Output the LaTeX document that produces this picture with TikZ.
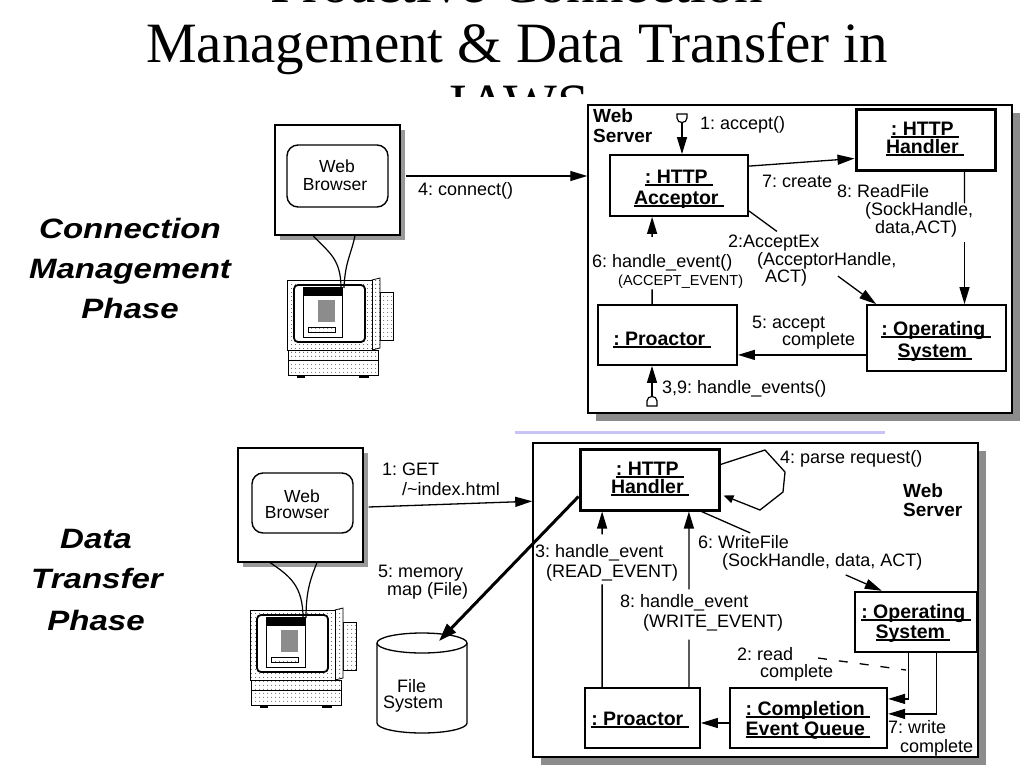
\documentclass[tikz,border=0pt]{standalone}
\usepackage{fontspec}
\setmainfont{Liberation Sans}
\newfontfamily\titlefont{Liberation Serif}
\usetikzlibrary{arrows.meta,calc,patterns.meta}
\newcommand\myul[1]{\setbox0\hbox{#1}\rlap{\rule[-3pt]{\wd0}{1.8pt}}\box0}
\definecolor{lav}{RGB}{200,196,245}
\frenchspacing
\begin{document}
\begin{tikzpicture}[x=1pt,y=-1pt,
  lbl/.style={font=\fontsize{18}{21}\selectfont, inner sep=0pt, anchor=base west},
  sml/.style={font=\fontsize{14.5}{16}\selectfont, inner sep=0pt, anchor=base west},
  obj/.style={font=\bfseries\fontsize{19.5}{22}\selectfont, inner sep=0pt, anchor=base},
  objl/.style={font=\bfseries\fontsize{19}{22}\selectfont, inner sep=0pt, anchor=base west},
  brt/.style={font=\fontsize{17.5}{20}\selectfont, inner sep=0pt, anchor=base},
  phase/.style={font=\bfseries\itshape\fontsize{28}{30}\selectfont, inner sep=0pt, anchor=base},
  ttl/.style={font=\titlefont\fontsize{57}{60}\selectfont, inner sep=0pt, anchor=base},
  box/.style={draw, line width=1.8pt, fill=white, inner sep=0pt},
  frame/.style={draw, line width=1.5pt, fill=white, inner sep=0pt},
  ln/.style={line width=1.3pt},
  arr/.style={line width=1.3pt, -{Triangle[length=17pt,width=10pt]}},
  dotfill/.style={preaction={fill=white}, pattern={Dots[distance=4pt,radius=0.5pt]}},
  computer/.pic={
    \draw[line width=0.8pt, dotfill] (93,12) rectangle (106,60);
    \draw[line width=0.8pt, dotfill] (85,0) -- (93,-2) -- (93,68) -- (85,70) -- cycle;
    \draw[line width=1pt, dotfill] (0,0) rectangle (85,70);
    \draw[line width=1.8pt, fill=white, rounded corners=4pt] (7,5) rectangle (78,62);
    \draw[line width=0.8pt, fill=white] (16,7) rectangle (55,57);
    \fill (16,7) rectangle (55,16);
    \fill[black!45] (31,20) rectangle (48,42);
    \draw[line width=0.8pt, dotfill] (21,47) rectangle (48,52);
    \draw[line width=0.9pt, dotfill] (1,70) rectangle (91,80);
    \draw[line width=0.9pt, dotfill] (1,80) rectangle (91,95);
    \fill (10,95) rectangle (18,98);
    \fill (72,95) rectangle (82,98);
  }]
\useasboundingbox (0,0) rectangle (1024,768);
\clip (0,0) rectangle (1024,768);
\fill[white] (0,0) rectangle (1024,768);

% title
\node[ttl] (t1) at (517,3) {Proactive Connection};
\node[ttl] (t2) at (517,63) {Management \& Data Transfer in};
\node[ttl] (t3) at (517,123) {JAWS};
\fill[white] (0,97) rectangle (1024,768);

% phase labels
\node[phase] (p1) at (130,238) {\scalebox{1.18}[1]{Connection}};
\node[phase] (p2) at (130,278) {\scalebox{1.18}[1]{Management}};
\node[phase] (p3) at (130,318) {\scalebox{1.18}[1]{Phase}};
\node[phase] (p4) at (96,548) {\scalebox{1.18}[1]{Data}};
\node[phase] (p5) at (97,588) {\scalebox{1.18}[1]{Transfer}};
\node[phase] (p6) at (96,630) {\scalebox{1.18}[1]{Phase}};

% ================= TOP =================
\fill[black!45] (596,113) rectangle (1020,421);
\node[frame, minimum width=424pt, minimum height=308pt] (ws1) at (800,259) {};
\node[objl] (ws1a) at (593,122) {Web};
\node[objl] (ws1b) at (593,142) {Server};

% browser 1
\fill[black!40] (280,130) rectangle (405,240);
\node[draw, line width=1.2pt, fill=white, minimum width=125pt, minimum height=110pt, inner sep=0pt] (br1) at (337.5,180) {};
\node[draw, line width=1.4pt, rounded corners=11pt, minimum width=101pt, minimum height=62pt, inner sep=0pt] (br1i) at (337.5,176) {};
\node[brt] (br1a) at (337,172) {Web};
\node[brt] (br1b) at (335,190) {Browser};

% computer 1
\pic at (287,280) {computer};
\coordinate (c1a) at (341,288);
\coordinate (c1b) at (344,288);
\draw[line width=1.2pt] ($(br1.south)+(-24.5,0)$) .. controls (328,252) and (341,258) .. (c1a);
\draw[line width=1.2pt] ($(br1.south)+(17.5,0)$) .. controls (351,255) and (345,262) .. (c1b);

% objects
\node[box, minimum width=138pt, minimum height=61pt] (acc) at (679,185.5) {};
\node[box, line width=3pt, minimum width=139pt, minimum height=61pt] (hh1) at (925.5,139.5) {};
\node[box, minimum width=139pt, minimum height=66pt] (os1) at (936.5,338) {};
\node[box, minimum width=139pt, minimum height=60pt] (pro1) at (667.5,335) {};

\node[obj] (acc1) at (679,183) {\myul{: HTTP\ }};
\node[obj] (acc2) at (679,204) {\myul{Acceptor\ }};
\node[obj] (hh1a) at (925,135) {\myul{: HTTP\ }};
\node[obj] (hh1b) at (925,153) {\myul{Handler\ }};
\node[obj] (os1a) at (936,335) {\myul{: Operating\ }};
\node[obj] (os1b) at (935,357) {\myul{System\ }};
\node[obj] (pro1a) at (662,345) {\myul{: Proactor\ }};

% 4: connect
\coordinate (cn) at ($(br1.east)+(5,-4)$);
\draw[arr] (cn) -- (cn -| ws1.west);
\node[lbl] (l4) at (418,195) {4: connect()};

% 1: accept
\coordinate (lol1) at (682,123);
\draw[line width=1.2pt, fill=white] (677,114) -- (687,114) -- (687,118) .. controls (687,124) and (677,124) .. (677,118) -- cycle;
\draw[arr] (lol1) -- (lol1 |- acc.north);
\node[lbl] (l1) at (700,129) {1: accept()};

% 7: create
\draw[arr] ($(acc.north east)+(0,12)$) -- ($(hh1.south west)+(0,-13)$);
\node[lbl] (l7) at (762,187) {7: create};

% 8: ReadFile
\coordinate (rfa) at ($(hh1.south east)+(-32,0)$);
\coordinate (rfb) at (rfa |- os1.north);
\draw[ln] (rfa) -- ($(rfa)!0.24!(rfb)$);
\draw[arr] ($(rfa)!0.53!(rfb)$) -- (rfb);
\node[lbl] (l8a) at (837,197) {8: ReadFile};
\node[lbl] (l8b) at (865,215) {(SockHandle,};
\node[lbl] (l8c) at (875,233) {data,ACT)};

% 2: AcceptEx
\coordinate (axa) at ($(acc.south east)+(0,-6)$);
\coordinate (axb) at ($(os1.north west)+(10,0)$);
\draw[ln] (axa) -- ($(axa)!0.22!(axb)$);
\draw[arr] ($(axa)!0.70!(axb)$) -- (axb);
\node[lbl] (l2a) at (728,247) {2:AcceptEx};
\node[lbl] (l2b) at (757,265) {(AcceptorHandle,};
\node[lbl] (l2c) at (765,282) {ACT)};

% 6: handle_event
\coordinate (hea) at ($(pro1.north west)+(55,0)$);
\coordinate (heb) at (hea |- acc.south);
\draw[ln] (hea) -- ($(hea)!0.17!(heb)$);
\draw[arr] ($(hea)!0.77!(heb)$) -- (heb);
\node[lbl] (l6a) at (592,267) {6: handle\_event()};
\node[sml] (l6b) at (618,285) {(ACCEPT\_EVENT)};

% 5: accept complete
\coordinate (aca) at ($(os1.south west)+(0,-17)$);
\draw[arr] (aca) -- (aca -| pro1.east);
\node[lbl] (l5a) at (752,328) {5: accept};
\node[lbl] (l5b) at (782,345) {complete};

% 3,9: handle_events
\coordinate (lol2) at (652,396);
\draw[line width=1.2pt, fill=white] (647,406) -- (657,406) -- (657,401) .. controls (657,395) and (647,395) .. (647,401) -- cycle;
\draw[arr] (lol2) -- (lol2 |- pro1.south);
\node[lbl] (l39) at (662,393) {3,9: handle\_events()};

% separator
\draw[lav, line width=3pt] (515,432) -- (885,432);

% ================= BOTTOM =================
\fill[black!45] (541,451) rectangle (986,765);
\node[frame, minimum width=445pt, minimum height=314pt] (ws2) at (755.5,600) {};
\node[objl] (ws2a) at (903,497) {Web};
\node[objl] (ws2b) at (903,516) {Server};

% browser 2
\fill[black!40] (243,453) rectangle (368,567);
\node[draw, line width=1.2pt, fill=white, minimum width=125pt, minimum height=114pt, inner sep=0pt] (br2) at (300.5,505) {};
\node[draw, line width=1.4pt, rounded corners=11pt, minimum width=101pt, minimum height=60pt, inner sep=0pt] (br2i) at (302.5,503) {};
\node[brt] (br2a) at (302,502) {Web};
\node[brt] (br2b) at (297,518) {Browser};

% computer 2
\pic at (250,610) {computer};
\coordinate (c2a) at (303,618);
\coordinate (c2b) at (306,618);
\draw[line width=1.2pt] ($(br2.south)+(-30.5,0)$) .. controls (290,576) and (303,586) .. (c2a);
\draw[line width=1.2pt] ($(br2.south)+(16.5,0)$) .. controls (310,580) and (306,592) .. (c2b);

% file system
\draw[line width=1.3pt, fill=white] (377,643) -- (377,723) arc[start angle=180, end angle=0, x radius=45, y radius=10] -- (467,643);
\draw[line width=1.3pt, fill=white] (422,643) ellipse [x radius=45, y radius=10];
\coordinate (fstop) at (439,641);
\node[lbl] (fs1) at (397,692) {File};
\node[lbl] (fs2) at (383,708) {System};

% objects
\node[box, line width=3pt, minimum width=139pt, minimum height=61pt] (hh2) at (649.5,479.5) {};
\node[box, line width=2.4pt, minimum width=122pt, minimum height=60pt] (os2) at (916,622) {};
\node[box, line width=2.2pt, minimum width=157pt, minimum height=60pt] (ceq) at (808.5,718) {};
\node[box, minimum width=115pt, minimum height=60pt] (pro2) at (642.5,718) {};

\node[obj] (hh2a) at (650,475) {\myul{: HTTP\ }};
\node[obj] (hh2b) at (650,493) {\myul{Handler\ }};
\node[obj] (os2a) at (916,618) {\myul{: Operating\ }};
\node[obj] (os2b) at (913,638) {\myul{System\ }};
\node[obj] (ceqa) at (808,715) {\myul{: Completion\ }};
\node[obj] (ceqb) at (808,735) {\myul{Event Queue\ }};
\node[obj] (pro2a) at (640,725) {\myul{: Proactor\ }};

% 1: GET
\draw[arr] ($(br2.east)+(5,2)$) -- ($(ws2.north west)+(0,59)$);
\node[lbl] (g1) at (382,475) {1: GET};
\node[lbl] (g2) at (402,495) {/\textasciitilde index.html};

% 5: memory map
\draw[line width=3pt, -{Triangle[length=18pt,width=12pt]}] ($(hh2.south west)+(0,-15)$) -- (fstop);
\node[lbl] (m1) at (378,577) {5: memory};
\node[lbl] (m2) at (387,595) {map (File)};

% 4: parse request (self loop)
\draw[line width=1.3pt, -{Triangle[length=10pt,width=8pt]}] ($(hh2.north east)+(0,17)$) -- (765,450) -- (785,472) -- (783,492) -- (760,510) -- ($(hh2.east)+(3,16)$);
\node[lbl] (pr) at (780,463) {4: parse request()};

% 3: handle_event
\coordinate (h3a) at ($(pro2.north west)+(18,0)$);
\coordinate (h3b) at (h3a |- hh2.south);
\draw[ln] (h3a) -- ($(h3a)!0.585!(h3b)$);
\draw[arr] ($(h3a)!0.87!(h3b)$) -- (h3b);
\node[lbl] (h3t1) at (535,557) {3: handle\_event};
\node[lbl] (h3t2) at (546,577) {(READ\_EVENT)};

% 8: handle_event
\coordinate (h8a) at ($(pro2.north east)+(-12,0)$);
\coordinate (h8b) at (h8a |- hh2.south);
\draw[ln] (h8a) -- ($(h8a)!0.27!(h8b)$);
\draw[arr] ($(h8a)!0.557!(h8b)$) -- (h8b);
\node[lbl] (h8t1) at (620,607) {8: handle\_event};
\node[lbl] (h8t2) at (643,627) {(WRITE\_EVENT)};

% 6: WriteFile
\coordinate (wfa) at ($(hh2.south east)+(-19,0)$);
\coordinate (wfb) at ($(os2.north west)+(28,0)$);
\draw[ln] (wfa) -- ($(wfa)!0.27!(wfb)$);
\draw[arr] ($(wfa)!0.80!(wfb)$) -- (wfb);
\node[lbl] (wf1) at (698,548) {6: WriteFile};
\node[lbl] (wf2) at (722,566) {(SockHandle, data, ACT)};

% 2: read complete
\draw[arr] ($(os2.south west)+(55,0)$) |- ($(ceq.north east)+(0,12)$);
\draw[line width=1.3pt, dash pattern=on 9pt off 12pt] (818,658) -- (906,670);
\node[lbl] (rc1) at (737,660) {2: read};
\node[lbl] (rc2) at (760,677) {complete};

% 7: write complete
\draw[arr] ($(os2.south west)+(83,0)$) |- ($(ceq.north east)+(0,27)$);
\node[lbl] (wc1) at (888,733) {7: write};
\node[lbl] (wc2) at (900,752) {complete};

% CEQ -> Proactor
\coordinate (cq) at ($(ceq.west)+(0,5)$);
\draw[arr] (cq) -- (cq -| pro2.east);

\end{tikzpicture}
\end{document}
